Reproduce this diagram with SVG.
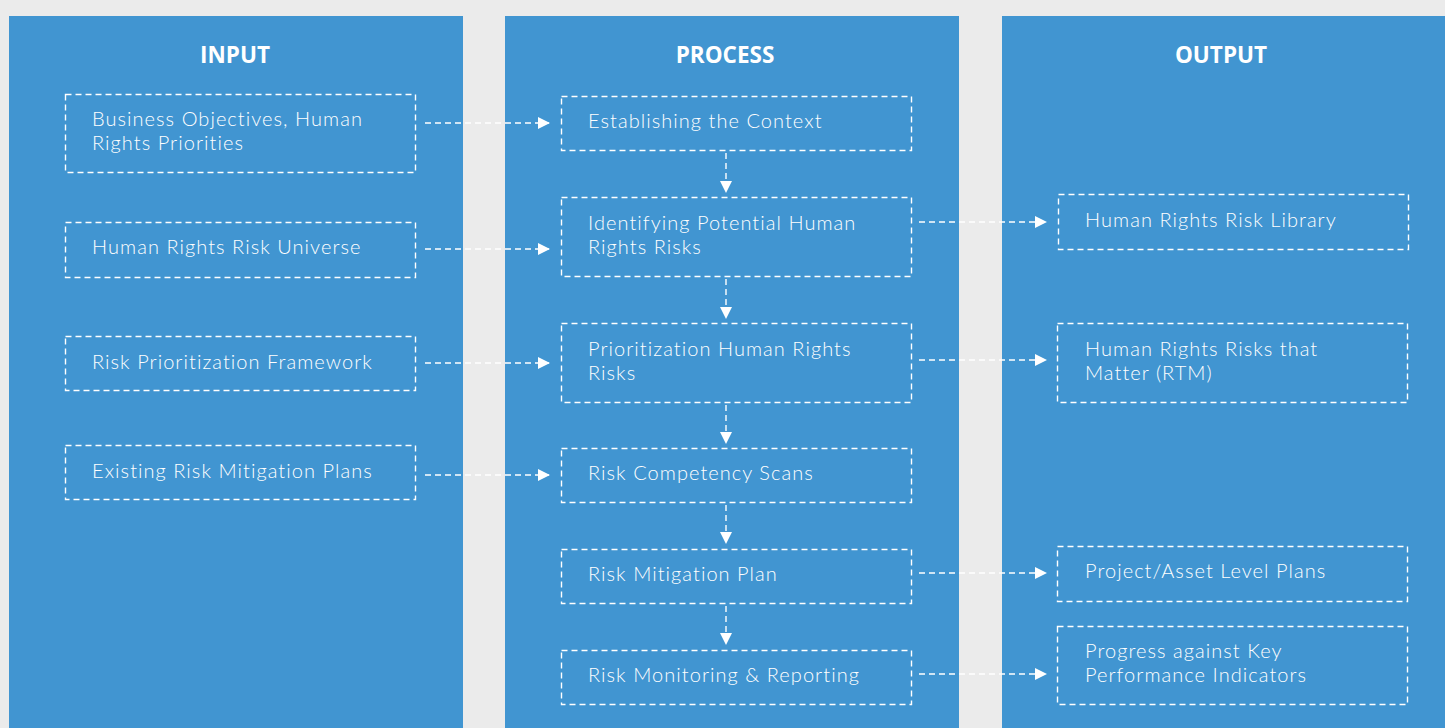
<svg xmlns="http://www.w3.org/2000/svg" width="1445" height="728" viewBox="0 0 1445 728">
<defs>
<marker id="ah" markerWidth="12" markerHeight="12" refX="11" refY="6" orient="auto" markerUnits="userSpaceOnUse">
<path d="M0,0 L12,6 L0,12 Z" fill="#ffffff"/>
</marker>
<style>
.col{fill:#4195d1;}
.box{fill:none;stroke:#ffffff;stroke-width:1.4;stroke-dasharray:6 4;}
.t{font-family:Lato,"Open Sans",sans-serif;font-size:20px;letter-spacing:1.05px;fill:#ffffff;font-weight:300;}
.h{font-family:"Open Sans","Liberation Sans",sans-serif;font-size:22.5px;fill:#ffffff;font-weight:700;text-anchor:middle;}
.c{fill:none;stroke:#ffffff;stroke-width:1.4;stroke-dasharray:6 4;marker-end:url(#ah);}
</style>
</defs>
<rect x="0" y="0" width="1445" height="728" fill="#ebebeb"/>
<rect class="col" x="9" y="16" width="454" height="712"/>
<rect class="col" x="505" y="16" width="454" height="712"/>
<rect class="col" x="1002" y="16" width="443" height="712"/>
<text class="h" x="235" y="63">INPUT</text>
<text class="h" x="725" y="63">PROCESS</text>
<text class="h" x="1221" y="63">OUTPUT</text>

<g id="in1"><rect class="box" x="65.5" y="94.5" width="350" height="78"/><text class="t" x="92" y="126">Business Objectives, Human</text><text class="t" x="92" y="150">Rights Priorities</text></g>
<g id="in2"><rect class="box" x="65.5" y="222.5" width="350" height="55"/><text class="t" x="92" y="254">Human Rights Risk Universe</text></g>
<g id="in3"><rect class="box" x="65.5" y="336.5" width="350" height="54"/><text class="t" x="92" y="369">Risk Prioritization Framework</text></g>
<g id="in4"><rect class="box" x="65.5" y="445.5" width="350" height="54"/><text class="t" x="92" y="478">Existing Risk Mitigation Plans</text></g>

<g id="p1"><rect class="box" x="561.5" y="96.5" width="350" height="54"/><text class="t" x="588" y="128">Establishing the Context</text></g>
<g id="p2"><rect class="box" x="561.5" y="197.5" width="350" height="79"/><text class="t" x="588" y="230">Identifying Potential Human</text><text class="t" x="588" y="254">Rights Risks</text></g>
<g id="p3"><rect class="box" x="561.5" y="323.5" width="350" height="79"/><text class="t" x="588" y="356">Prioritization Human Rights</text><text class="t" x="588" y="380">Risks</text></g>
<g id="p4"><rect class="box" x="561.5" y="448.5" width="350" height="54"/><text class="t" x="588" y="480">Risk Competency Scans</text></g>
<g id="p5"><rect class="box" x="561.5" y="549.5" width="350" height="54"/><text class="t" x="588" y="581">Risk Mitigation Plan</text></g>
<g id="p6"><rect class="box" x="561.5" y="650.5" width="350" height="54"/><text class="t" x="588" y="682">Risk Monitoring &amp; Reporting</text></g>

<g id="o1"><rect class="box" x="1058.5" y="194.5" width="350" height="55"/><text class="t" x="1085" y="227">Human Rights Risk Library</text></g>
<g id="o2"><rect class="box" x="1057.5" y="323.5" width="350" height="79"/><text class="t" x="1085" y="356">Human Rights Risks that</text><text class="t" x="1085" y="380">Matter (RTM)</text></g>
<g id="o3"><rect class="box" x="1057.5" y="546.5" width="350" height="55"/><text class="t" x="1085" y="578">Project/Asset Level Plans</text></g>
<g id="o4"><rect class="box" x="1057.5" y="626.5" width="350" height="78"/><text class="t" x="1085" y="658">Progress against Key</text><text class="t" x="1085" y="682">Performance Indicators</text></g>

<g id="connectors">
<line class="c" x1="425" y1="123" x2="549" y2="123"/>
<line class="c" x1="425" y1="249" x2="549" y2="249"/>
<line class="c" x1="425" y1="363" x2="549" y2="363"/>
<line class="c" x1="425" y1="475" x2="549" y2="475"/>
<line class="c" x1="919" y1="222" x2="1046" y2="222"/>
<line class="c" x1="919" y1="360" x2="1046" y2="360"/>
<line class="c" x1="919" y1="573" x2="1046" y2="573"/>
<line class="c" x1="919" y1="674" x2="1046" y2="674"/>
<line class="c" x1="726" y1="153" x2="726" y2="192"/>
<line class="c" x1="726" y1="279" x2="726" y2="318"/>
<line class="c" x1="726" y1="405" x2="726" y2="443"/>
<line class="c" x1="726" y1="505" x2="726" y2="543"/>
<line class="c" x1="726" y1="606" x2="726" y2="644"/>
</g>
</svg>
